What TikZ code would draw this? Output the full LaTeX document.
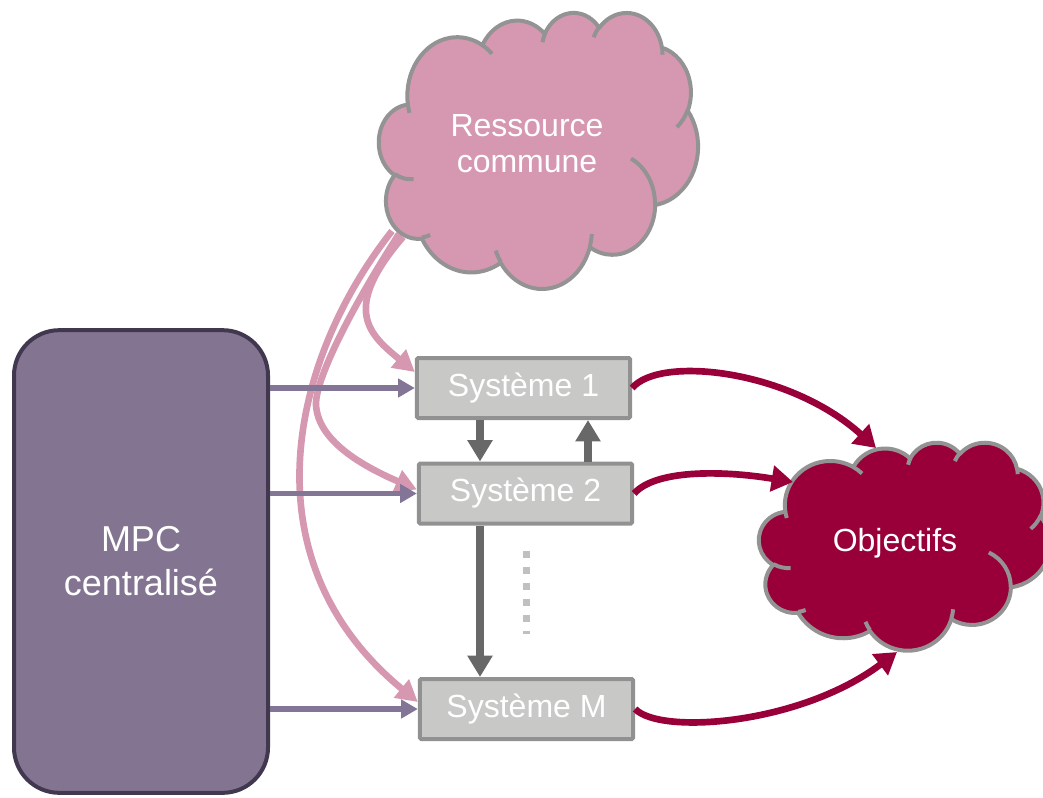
\documentclass[tikz,border=0pt]{standalone}
\usepackage{fontspec}
\setmainfont{Liberation Sans}
\usetikzlibrary{arrows.meta,calc}
\definecolor{mpcfill}{RGB}{131,117,145}
\definecolor{mpcdraw}{RGB}{65,56,79}
\definecolor{sysfill}{RGB}{200,200,199}
\definecolor{sysdraw}{RGB}{145,145,145}
\definecolor{pinkc}{RGB}{214,152,176}
\definecolor{redc}{RGB}{153,0,57}
\definecolor{cloudline}{RGB}{147,147,147}
\definecolor{darkar}{RGB}{104,104,104}
\definecolor{dotc}{RGB}{192,192,192}
\definecolor{purpar}{RGB}{131,117,150}

\tikzset{
  cloudedge/.style={draw=cloudline, line width=3pt},
  mpcbox/.style={draw=mpcdraw, fill=mpcfill, line width=3pt, rounded corners=34pt,
    minimum width=190.5pt, minimum height=347pt, text=white, align=center,
    font=\fontsize{27}{33}\selectfont},
  sysbox/.style={draw=sysdraw, fill=sysfill, line width=3pt, rounded corners=1pt,
    minimum width=160pt, minimum height=45pt, text=white,
    font=\fontsize{24}{28}\selectfont},
  cloudtext/.style={text=white, align=center, font=\fontsize{24}{27}\selectfont},
  purparrow/.style={draw=purpar, line width=4pt, -{Triangle[length=12.5pt,width=13.5pt]}},
  pinkarrow/.style={draw=pinkc, line width=5pt, -{Triangle[length=16pt,width=17pt]}},
  greyarrow/.style={draw=darkar, line width=5.5pt, -{Triangle[length=16pt,width=18pt]}},
  redarrow/.style={draw=redc, line width=5pt, -{Triangle[length=16pt,width=19pt]}},
  dotline/.style={draw=dotc, line width=5.25pt, dash pattern=on 5.25pt off 6.75pt},
}

\newcommand{\pptcloud}[5]{%
  \pgfmathsetmacro\cwx{#3/5760}%
  \pgfmathsetmacro\cwy{#4/5760}%
  \begin{scope}[shift={(#1,#2)}, x=\cwx pt, y=-\cwy pt]
    \filldraw[fill=#5, cloudedge, line join=round] (390,1437)
      \foreach \cw/\ch/\cs/\cd [evaluate=\cs as \ta using {atan2(\cw*sin(\cs),\ch*cos(\cs))},
                               evaluate=\cd as \tb using {atan2(\cw*sin(\cs+\cd),\ch*cos(\cs+\cd))}] in
        {675.3/919.0/-190.48748/123.78053, 533.3/726.7/-144.10238/89.94523,
         436.5/594.5/-145.80792/99.72302, 485.7/659.5/-130.98607/117.24173,
         533.3/727.3/-78.70888/109.02692, 677.5/922.0/-46.26725/130.269,
         578.5/786.7/0.62502/114.03333, 675.2/921.5/22.4516/115.17255,
         772.0/1054.3/66.24263/75.71102, 436.0/591.8/-274.94208/146.73557,
         434.5/594.5/-246.8285/152.51885}
      { arc[x radius=\cw, y radius=\ch, start angle=\ta, delta angle={mod(\tb-\ta+720,360)}] } -- cycle;
    \foreach \mx/\my/\cw/\ch/\cs/\cd [evaluate=\cs as \ta using {atan2(\cw*sin(\cs),\ch*cos(\cs))},
                               evaluate=\cd as \tb using {atan2(\cw*sin(\cs+\cd),\ch*cos(\cs+\cd))}] in
        {469.3/2617.7/434.5/594.5/86.742/26.4295,
         692.8/3489.9/436.0/591.8/73.61047/11.44747,
         1647.8/3909.0/675.2/921.5/137.62415/14.0811,
         2882.7/3475.1/675.2/921.5/6.45327/15.99835,
         3412.9/2295.4/578.5/786.7/-70.29235/70.91737,
         4179.8/1535.4/533.3/727.3/30.31803/27.7515,
         3832.4/542.6/485.7/659.5/-13.74433/14.8589,
         2907.8/395.2/485.7/659.5/-149.18145/18.19537,
         2214.1/472.0/436.5/594.5/-163.49427/17.68635,
         1400.0/519.2/675.3/919.0/-66.70695/12.31935,
         412.7/1578.9/675.3/919.0/157.65435/11.85817}
      { \draw[cloudedge] (\mx,\my) arc[x radius=\cw, y radius=\ch, start angle=\ta, delta angle={mod(\tb-\ta+720,360)}]; }
  \end{scope}}

\begin{document}
\begin{tikzpicture}[x=0.75pt, y=-0.75pt]
\useasboundingbox (0,0) rectangle (1043,797);
\clip (0,0) rectangle (1043,797);

% named points
\coordinate (rA) at (403,237);
\coordinate (rB) at (399,234);
\coordinate (rC) at (392,231);
\coordinate (oA) at (876,448);
\coordinate (oB) at (793,482);
\coordinate (oC) at (897,652);
\coordinate (gx1) at (480,0);
\coordinate (gx2) at (588,0);
\coordinate (dt) at (526,551);
\coordinate (db) at (526,634);

% systems and controller
\node[mpcbox] (mpc) at (141,561.5) {MPC\\centralisé};
\node[sysbox] (s1) at (523.5,388) {Système 1};
\node[sysbox] (s2) at (525.5,493.5) {Système 2};
\node[sysbox] (sM) at (526.5,709) {Système M};

% pink connectors from the shared resource
\draw[pinkarrow] (rA) .. controls (340,310) and (370,335) .. ($(s1.west)+(0,-16)$);
\draw[pinkarrow] (rB) .. controls (350,310) and (315,380) .. (316,405)
                      .. controls (318,440) and (360,465) .. ($(s2.west)+(0,-4)$);
\draw[pinkarrow] (rC) .. controls (290,360) and (245,560) .. ($(sM.west)+(0,-7)$);

% resource cloud
\pptcloud{379}{12}{319}{276}{pinkc}
\node[cloudtext] (rc) at (527,144) {Ressource\\commune};

% purple arrows
\draw[purparrow] (mpc.east |- s1.west) -- (s1.west);
\draw[purparrow] (mpc.east |- s2.west) -- (s2.west);
\draw[purparrow] (mpc.east |- sM.west) -- (sM.west);

% grey arrows
\draw[greyarrow] (s1.south -| gx1) -- (s2.north -| gx1);
\draw[greyarrow] (s2.north -| gx2) -- (s1.south -| gx2);
\draw[greyarrow] (s2.south -| gx1) -- (sM.north -| gx1);
\draw[dotline] (dt) -- (db);

% objectives cloud
\pptcloud{759}{442}{291}{208}{redc}
\node[cloudtext] (obj) at (895,543) {Objectifs};

% red arrows
\draw[redarrow] (s1.east) .. controls (660,355) and (790,370) .. (oA);
\draw[redarrow] (s2.east) .. controls (655,470) and (720,470) .. (oB);
\draw[redarrow] (sM.east) .. controls (660,735) and (800,725) .. (oC);
\end{tikzpicture}
\end{document}
